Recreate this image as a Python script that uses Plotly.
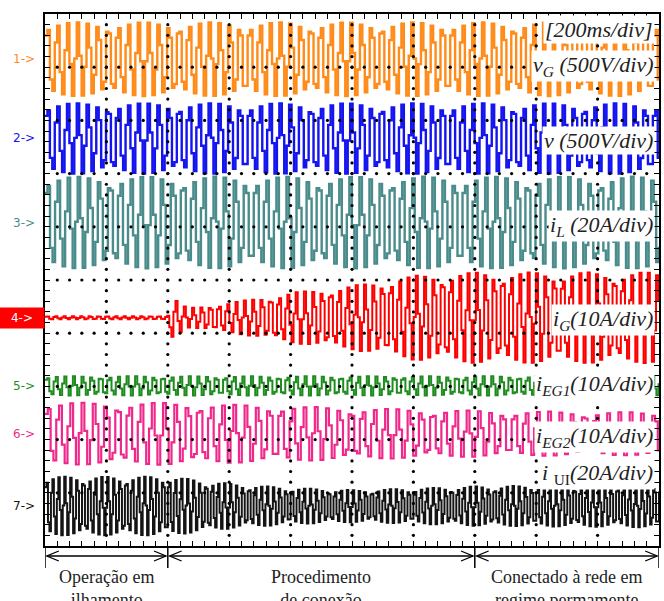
import numpy as np
import plotly.graph_objects as go

# ---------------- data (screen divisions: x 0..10 @200ms/div, y 0..10) ----------------
channel_tags = ["1->", "2->", "3->", "4->", "5->", "6->", "7->"]
channel_colors = ["#FF8C1A", "#1414F0", "#4A8C8C", "#FF0000", "#1E8C1E", "#F0288C", "#141414"]
channel_centers = [9.15, 7.66, 6.08, 4.29, 3.01, 2.11, 0.75]
channel_periods = [0.165, 0.165, 0.17, 0.14, 0.145, 0.19, 0.10]  # apparent (aliased) period on screen
channel_widths = [2.4, 2.4, 2.4, 2.0, 2.0, 2.2, 2.0]

# amplitude envelopes (in divisions)
vg_env_t = [0.0, 10.0]
vg_env_a = [0.69, 0.69]
v_env_t = [0.0, 10.0]
v_env_a = [0.66, 0.66]
il_env_t = [0.0, 10.0]
il_env_a = [0.86, 0.86]
ig_env_t = [0.0, 1.99, 2.0, 2.06, 2.3, 3.0, 4.0, 5.0, 6.0, 7.0, 10.0]
ig_env_a = [0.03, 0.03, 0.45, 0.38, 0.18, 0.28, 0.47, 0.60, 0.79, 0.85, 0.85]
ieg1_env_t = [0.0, 10.0]
ieg1_env_a = [0.18, 0.18]
ieg2_env_t = [0.0, 2.0, 5.0, 7.5, 10.0]
ieg2_env_a = [0.58, 0.58, 0.48, 0.42, 0.40]
iu1_env_t = [0.0, 2.0, 3.0, 4.0, 5.0, 6.0, 7.0, 10.0]
iu1_env_a = [0.55, 0.55, 0.42, 0.34, 0.30, 0.33, 0.37, 0.40]

envelopes = [(vg_env_t, vg_env_a), (v_env_t, v_env_a), (il_env_t, il_env_a),
             (ig_env_t, ig_env_a), (ieg1_env_t, ieg1_env_a), (ieg2_env_t, ieg2_env_a),
             (iu1_env_t, iu1_env_a)]

scale_labels = ["<i>[200ms/div]</i>",
                "<i>v<sub>G</sub> (500V/div)</i>",
                "<i>v (500V/div)</i>",
                "<i>i<sub>L</sub> (20A/div)</i>",
                "<i>i<sub>G</sub>(10A/div)</i>",
                "<i>i<sub>EG1</sub>(10A/div)</i>",
                "<i>i<sub>EG2</sub>(10A/div)</i>",
                "<i>i</i> <sub>UI</sub><i>(20A/div)</i>"]
scale_label_y = [9.70, 9.02, 7.63, 6.02, 4.25, 3.03, 2.05, 1.35]

phase_bounds = [0.0, 2.0, 7.0, 10.0]
phase_labels = ["Operação em<br>ilhamento",
                "Procedimento<br>de conexão",
                "Conectado à rede em<br>regime permamente"]

# ---------------- figure ----------------
W, H = 664, 601
ML, MR, MT, MB = 45, 3, 14, 55
PW, PH = W - ML - MR, H - MT - MB


def paper_y(py):
    return (H - MB - py) / PH


fig = go.Figure()

for k in range(7):
    per = channel_periods[k]
    step = per / 4.15
    t = np.arange(0.0, 10.0 + step, step)
    et, ea = envelopes[k]
    amp = np.interp(t, et, ea)
    y = channel_centers[k] + amp * np.sin(2 * np.pi * t / per + 0.7)
    fig.add_trace(go.Scatter(x=t, y=y, mode="lines",
                             line=dict(color=channel_colors[k], width=channel_widths[k], shape="hv"),
                             hoverinfo="skip", showlegend=False))

# dotted graticule
gx, gy = [], []
for d in range(1, 10):
    for s in np.arange(0.2, 10.0, 0.2):
        gx.append(d); gy.append(s)
        gx.append(s); gy.append(d)
fig.add_trace(go.Scatter(x=gx, y=gy, mode="markers", marker=dict(color="black", size=3.2),
                         hoverinfo="skip", showlegend=False))

ann = []
for lab, yy in zip(scale_labels, scale_label_y):
    ann.append(dict(x=9.93, y=yy, xref="x", yref="y", text=lab, showarrow=False, xanchor="right",
                    yanchor="middle", bgcolor="white", borderpad=1,
                    font=dict(family="Liberation Serif", size=22, color="#222")))

for k in range(7):
    if k == 3:
        ann.append(dict(x=0, y=channel_centers[k], xref="paper", yref="y", text=channel_tags[k],
                        showarrow=False, xanchor="right", yanchor="middle", bgcolor="#FF0000",
                        width=44, height=20, borderpad=0, align="center",
                        font=dict(family="DejaVu Sans", size=12, color="white")))
    else:
        ann.append(dict(x=0, y=channel_centers[k], xref="paper", yref="y", text=channel_tags[k],
                        showarrow=False, xanchor="right", yanchor="middle", xshift=-8,
                        font=dict(family="DejaVu Sans", size=12, color=channel_colors[k])))

shapes = []
y_arrow = paper_y(556)
y_sep_bot = paper_y(568)
head_dx = 12 / (PW / 10)
head_dy = 5 / PH
for b in phase_bounds:
    shapes.append(dict(type="line", xref="x", yref="paper", x0=b, x1=b, y0=0, y1=y_sep_bot,
                       line=dict(color="black", width=1.5)))
for i, lab in enumerate(phase_labels):
    a0, a1 = phase_bounds[i] + 0.03, phase_bounds[i + 1] - 0.03
    shapes.append(dict(type="line", xref="x", yref="paper", x0=a0, x1=a1, y0=y_arrow, y1=y_arrow,
                       line=dict(color="black", width=1.3)))
    shapes.append(dict(type="path", xref="x", yref="paper",
                       path=f"M {a0 + head_dx},{y_arrow + head_dy} L {a0},{y_arrow} L {a0 + head_dx},{y_arrow - head_dy}",
                       line=dict(color="black", width=1.3)))
    shapes.append(dict(type="path", xref="x", yref="paper",
                       path=f"M {a1 - head_dx},{y_arrow + head_dy} L {a1},{y_arrow} L {a1 - head_dx},{y_arrow - head_dy}",
                       line=dict(color="black", width=1.3)))
    ann.append(dict(x=(phase_bounds[i] + phase_bounds[i + 1]) / 2, y=paper_y(565), xref="x", yref="paper",
                    text=lab, showarrow=False, xanchor="center", yanchor="top",
                    font=dict(family="Liberation Serif", size=18, color="#222")))

axis_common = dict(showgrid=False, zeroline=False, showline=True, linecolor="black", linewidth=2,
                   mirror="allticks", ticks="inside", ticklen=5, tickcolor="black", tickwidth=1.3,
                   showticklabels=False, range=[0, 10], tick0=0, dtick=0.2, fixedrange=True)

fig.update_layout(width=W, height=H, margin=dict(l=ML, r=MR, t=MT, b=MB),
                  paper_bgcolor="white", plot_bgcolor="white",
                  xaxis=axis_common, yaxis=axis_common,
                  annotations=ann, shapes=shapes, showlegend=False)

fig.write_html("out.html", config={"displayModeBar": False},
               post_script="document.body.style.margin='0';document.body.style.overflow='hidden';")
